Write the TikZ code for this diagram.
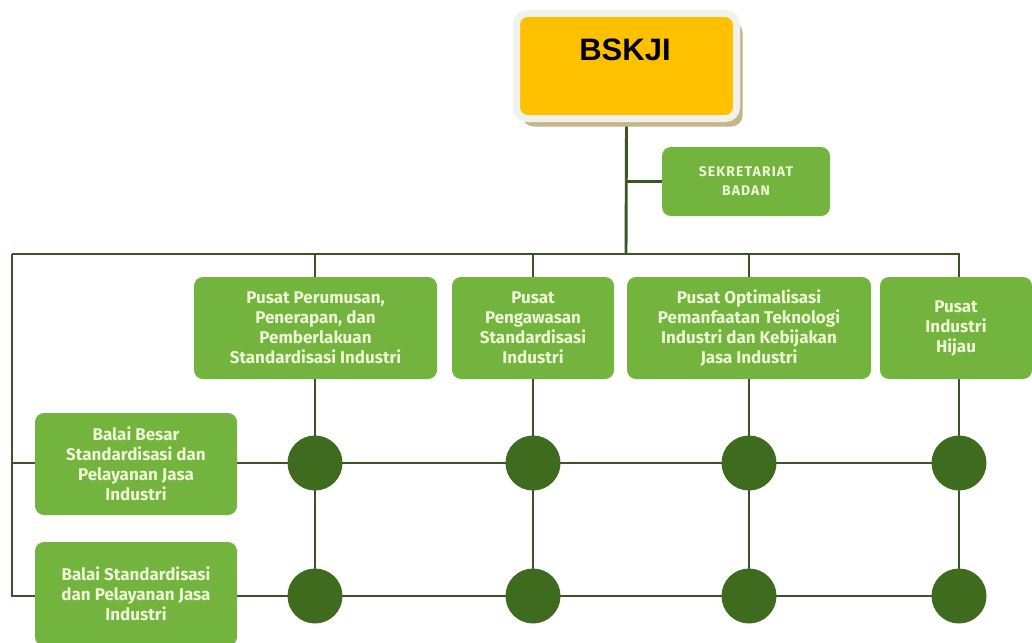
\documentclass[tikz,border=0pt]{standalone}
\usepackage{fontspec}
\setmainfont{Fira Sans}
\newfontfamily\headfont{Liberation Sans}
\usepackage{xcolor}
\usetikzlibrary{calc,backgrounds,shadows}
\definecolor{bg}{HTML}{FFFFFF}
\definecolor{unitgreen}{HTML}{72B43E}
\definecolor{unittext}{HTML}{EFF6D6}
\definecolor{nodegreen}{HTML}{3E6B1D}
\definecolor{linkgreen}{HTML}{3B5527}
\definecolor{headfill}{HTML}{FFC000}
\definecolor{headframe}{HTML}{F1F1EE}
\definecolor{headshade}{HTML}{C5B689}
\tikzset{
  x=1pt, y=-1pt,
  link/.style={draw=linkgreen, line width=2.9pt},
  unit/.style={fill=unitgreen, text=unittext, rounded corners=9pt, align=center,
    inner sep=4pt, font=\fontsize{17}{20}\selectfont\bfseries},
  hub/.style={circle, fill=nodegreen, minimum size=55pt, inner sep=0pt},
  head/.style={fill=headfill, draw=headframe, line width=7pt, rounded corners=11pt,
    minimum width=220pt, minimum height=105pt,
    drop shadow={shadow xshift=6pt, shadow yshift=-8pt, fill=headshade, opacity=1}}
}
\begin{document}
\begin{tikzpicture}
  \useasboundingbox (0,0) rectangle (1032,642);

  % top
  \node[head] (bskji) at (626.5,66) {};
  \node[font=\headfont\bfseries\fontsize{31}{36}\selectfont] (bskjitext) at (625,50) {BSKJI};
  \node[unit, minimum width=168pt, minimum height=69pt,
    font=\fontsize{14}{19}\selectfont\bfseries\addfontfeatures{LetterSpace=8}]
    (sekretariat) at (746,181.5) {SEKRETARIAT\\BADAN};

  % pusat
  \node[unit, minimum width=243pt, minimum height=102pt] (pusat1) at (315.5,328)
    {Pusat Perumusan,\\Penerapan, dan\\Pemberlakuan\\Standardisasi Industri};
  \node[unit, minimum width=162pt, minimum height=102pt] (pusat2) at (533,328)
    {Pusat\\Pengawasan\\Standardisasi\\Industri};
  \node[unit, minimum width=244pt, minimum height=102pt] (pusat3) at (749,328)
    {Pusat Optimalisasi\\Pemanfaatan Teknologi\\Industri dan Kebijakan\\Jasa Industri};
  \node[unit, minimum width=152pt, minimum height=102pt] (pusat4) at (956,328)
    {Pusat\\Industri\\Hijau};

  % balai
  \node[unit, minimum width=202pt, minimum height=102pt] (balai1) at (136,464)
    {Balai Besar\\Standardisasi dan\\Pelayanan Jasa\\Industri};
  \node[unit, minimum width=202pt, minimum height=104pt] (balai2) at (136,594)
    {Balai Standardisasi\\dan Pelayanan Jasa\\Industri};

  % hubs
  \foreach \col/\x in {1/315,2/533,3/749,4/959}{
    \node[hub] (hub1\col) at (\x,463) {};
    \node[hub] (hub2\col) at (\x,596) {};
  }

  \coordinate (busleft) at (12,254);
  \coordinate (busmid) at (626,254);

  \begin{scope}[on background layer]
    \fill[bg] (0,0) rectangle (1032,642);
    \draw[link] (bskji.south) -- (busmid);
    \draw[link] (bskji.south |- sekretariat.west) -- (sekretariat.west);
    \draw[link] (busleft) -| (hub14.center);
    \foreach \col in {1,2,3}{
      \draw[link] (hub1\col |- busleft) -- (hub1\col.center) -- (hub2\col.center);
    }
    \draw[link] (hub14.center) -- (hub24.center);
    \draw[link] (busleft) |- (hub21.center) -- (hub24.center);
    \draw[link] (busleft |- hub11) -- (hub14.center);
  \end{scope}
\end{tikzpicture}
\end{document}
